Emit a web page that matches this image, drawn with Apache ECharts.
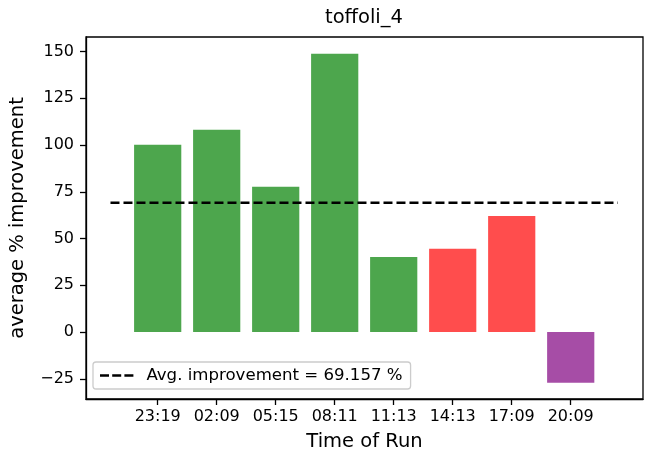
<!DOCTYPE html>
<html>
<head>
<meta charset="utf-8">
<script src="https://cdn.jsdelivr.net/npm/echarts@6/dist/echarts.min.js"></script>
<style>
  html, body { margin: 0; padding: 0; background: #fff; }
  #main { width: 654px; height: 463px; }
</style>
</head>
<body>
<div id="main"></div>
<script>
// run times (x tick labels)
var runTimes = ["23:19", "02:09", "05:15", "08:11", "11:13", "14:13", "17:09", "20:09"];
// average % improvement per run
var improvement = [100.2, 108.2, 77.7, 148.9, 40.2, 44.5, 62.1, -27.1];
// which bucket each bar belongs to (drives colour)
var runGroup = ["good", "good", "good", "good", "good", "bad", "bad", "neg"];
var avgImprovement = 69.157;
var yTicks = [-25, 0, 25, 50, 75, 100, 125, 150];

var groupColor = { good: "#4da64d", bad: "#ff4d4d", neg: "#a64da6" };
var FONT = "DejaVu Sans";

// axis limits like matplotlib (5% margin)
var xMin = -1.215, xMax = 8.225;
var yMin = -35.8, yMax = 157.8;

var gridLeft = 86, gridRight = 11;
var plotW = 654 - gridLeft - gridRight;
var barW = 0.8 * plotW / (xMax - xMin);

var xTicks = runTimes.map(function (t, i) { return i; });

var barData = improvement.map(function (v, i) {
    return { value: [i, v], itemStyle: { color: groupColor[runGroup[i]] } };
});

var avgName = "Avg. improvement = " + avgImprovement + " %";
// three dashes, like the matplotlib legend handle
var dashIcon = "path://M0,0h9v2.6h-9zM12.2,0h9v2.6h-9zM24.4,0h9v2.6h-9z";

var chart = echarts.init(document.getElementById("main"), null, { renderer: "canvas" });

var option = {
    backgroundColor: "#fff",
    animation: false,
    textStyle: { fontFamily: FONT },
    title: {
        text: "toffoli_4",
        left: 325,
        top: 8,
        padding: 0,
        textStyle: { fontFamily: FONT, fontSize: 19.5, fontWeight: "normal", color: "#000" }
    },
    grid: {
        left: gridLeft, right: gridRight, top: 37, bottom: 64,
        show: true, borderColor: "#000", borderWidth: 1.3, backgroundColor: "transparent"
    },
    legend: {
        left: 93,
        top: 362,
        orient: "vertical",
        padding: [5, 8, 5, 7],
        borderColor: "#cccccc",
        borderWidth: 1.3,
        borderRadius: 3,
        backgroundColor: "rgba(255,255,255,0.8)",
        itemWidth: 33.4,
        itemHeight: 2.6,
        textStyle: { fontFamily: FONT, fontSize: 16.6, color: "#000", padding: [0, 0, 0, 8] },
        data: [{ name: avgName, icon: dashIcon, itemStyle: { color: "#000" } }]
    },
    xAxis: {
        type: "value",
        min: xMin,
        max: xMax,
        name: "Time of Run",
        nameLocation: "middle",
        nameGap: 33,
        nameTextStyle: { fontFamily: FONT, fontSize: 19.5, color: "#000" },
        axisLine: { show: true, onZero: false, lineStyle: { color: "#000", width: 1.3 } },
        axisTick: { show: true, customValues: xTicks, length: 6, lineStyle: { color: "#000", width: 1.3 } },
        axisLabel: {
            customValues: xTicks,
            margin: 10,
            fontFamily: FONT, fontSize: 16, color: "#000",
            formatter: function (v) { return runTimes[Math.round(v)]; }
        },
        splitLine: { show: false }
    },
    yAxis: {
        type: "value",
        min: yMin,
        max: yMax,
        name: "average % improvement",
        nameLocation: "middle",
        nameGap: 58,
        nameTextStyle: { fontFamily: FONT, fontSize: 19.5, color: "#000" },
        axisLine: { show: true, onZero: false, lineStyle: { color: "#000", width: 1.3 } },
        axisTick: { show: true, customValues: yTicks, length: 6, lineStyle: { color: "#000", width: 1.3 } },
        axisLabel: {
            customValues: yTicks,
            margin: 12,
            fontFamily: FONT, fontSize: 16, color: "#000",
            formatter: function (v) { return v < 0 ? "\u2212" + Math.abs(v) : String(v); }
        },
        splitLine: { show: false }
    },
    series: [
        {
            type: "bar",
            barWidth: barW,
            data: barData,
            silent: true
        },
        {
            name: avgName,
            type: "line",
            symbol: "none",
            data: [[-0.8, avgImprovement], [7.8, avgImprovement]],
            lineStyle: { color: "#000", width: 2.3, type: [9, 4] },
            itemStyle: { color: "#000" },
            z: 5
        }
    ]
};

chart.setOption(option);
</script>
</body>
</html>
